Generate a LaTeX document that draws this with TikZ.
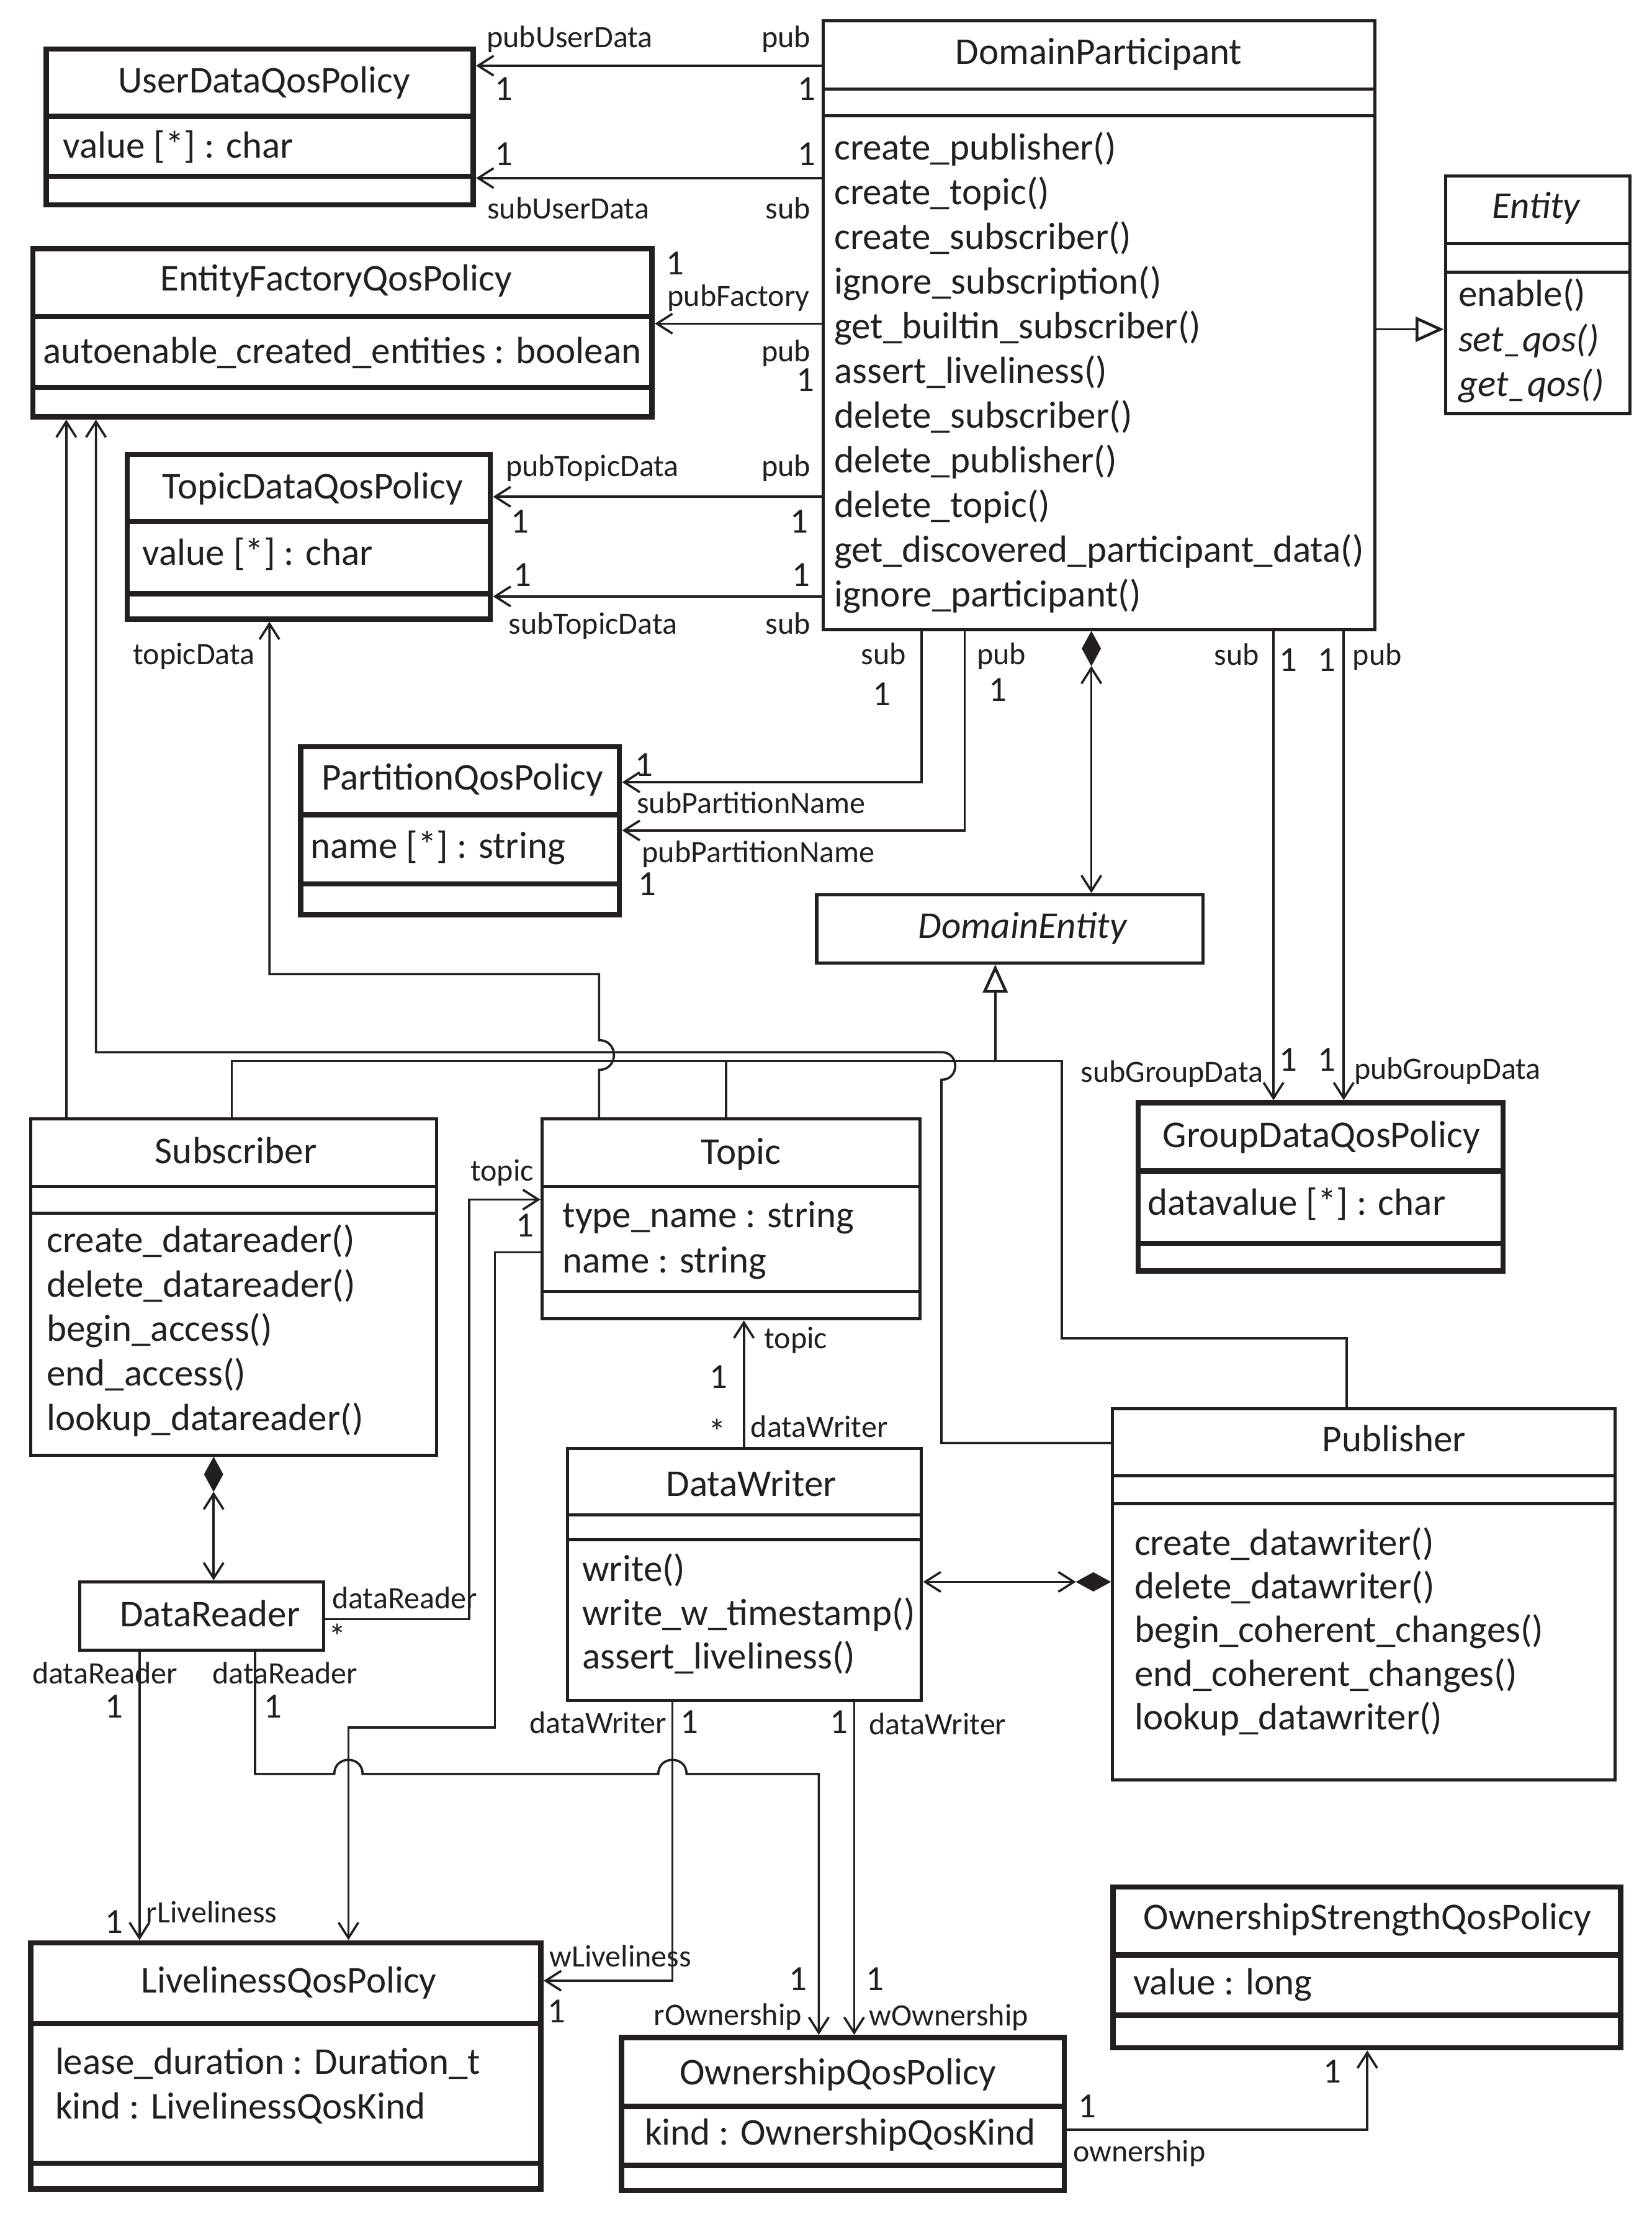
\documentclass[tikz,border=0pt]{standalone}
\usepackage{fontspec}
\setmainfont{Carlito}
\usepackage{tikz}
\usetikzlibrary{
  arrows.meta,
  positioning,
  shapes.geometric,
  fit,
  calc,
}
\definecolor{linecol}{RGB}{35,31,32}
\newcommand{\namefont}{\fontsize{13.4}{16}\selectfont}
\newcommand{\rolefont}{\fontsize{11}{13}\selectfont}
\newcommand{\multfont}{\fontsize{12.5}{14}\selectfont}
\newcommand{\classrule}[3][thinrule]{\draw[#1] (#2.west |- 0,#3) -- (#2.east |- 0,#3);}
\tikzset{
  thinclass/.style={draw=linecol, line width=1.1pt, inner sep=0pt},
  thickclass/.style={draw=linecol, line width=1.9pt, inner sep=0pt},
  thinrule/.style={draw=linecol, line width=1.1pt},
  thickrule/.style={draw=linecol, line width=1.9pt},
  clsname/.style={font=\namefont, anchor=mid, inner sep=0pt, yshift=-2pt},
  member/.style={font=\namefont, anchor=mid west, inner sep=0pt, yshift=-2pt},
  rolelbl/.style={font=\rolefont, inner sep=0pt, yshift=-2pt},
  mult/.style={font=\multfont, anchor=mid, inner sep=0pt, yshift=-1.6pt},
  conn/.style={line width=0.8pt},
  assoc/.style={conn, -{Straight Barb[length=5.5pt, width=7pt]}},
  assoctwo/.style={conn, {Straight Barb[length=5.5pt, width=7pt]}-{Straight Barb[length=5.5pt, width=7pt]}},
  gener/.style={conn, -{Triangle[open, length=10pt, width=8.8pt, line width=1pt]}},
  compdiam/.style={diamond, fill=linecol, draw=linecol, line width=0.3pt,
    inner sep=0pt, minimum width=6.6pt, minimum height=12pt},
  compdiamh/.style={diamond, fill=linecol, draw=linecol, line width=0.3pt,
    inner sep=0pt, minimum width=12pt, minimum height=6.6pt},
}

\begin{document}
\begin{tikzpicture}[x=0.5pt, y=-0.5pt, color=linecol]
  \useasboundingbox (0,0) rectangle (1169,1568);

  % ── DomainParticipant ──
  \node[thinclass, fit={(582.5,14.7) (973,445.5)}] (DP) {};
  \classrule{DP}{63.2}
  \classrule{DP}{81.7}
  \node[clsname] (DPn) at (777.7,36.8) {DomainParticipant};
  \foreach \m [count=\i] in {create\_publisher(), create\_topic(), create\_subscriber(),
      ignore\_subscription(), get\_builtin\_subscriber(), assert\_liveliness(),
      delete\_subscriber(), delete\_publisher(), delete\_topic(),
      get\_discovered\_participant\_data(), ignore\_participant()} {
    \node[member] (DPm\i) at (590,72.8+31.6*\i) {\m};
  }

  % ── Entity ──
  \node[thinclass, fit={(1023,124.4) (1153.6,292.6)}] (Ent) {};
  \classrule{Ent}{172.6}
  \classrule{Ent}{192.6}
  \node[clsname] (Entn) at (1087.5,145.5) {\textit{Entity}};
  \node[member] (Entm1) at (1031.8,208) {enable()};
  \node[member] (Entm2) at (1031.8,240) {\textit{set\_qos()}};
  \node[member] (Entm3) at (1031.8,271.5) {\textit{get\_qos()}};

  % ── UserDataQosPolicy ──
  \node[thickclass, fit={(32.6,34.7) (335,145)}] (UD) {};
  \classrule[thickrule]{UD}{82.3}
  \classrule[thickrule]{UD}{124.7}
  \node[clsname] (UDn) at (187,57) {UserDataQosPolicy};
  \node[member] (UDa) at (44.3,103) {value [*] : char};

  % ── EntityFactoryQosPolicy ──
  \node[thickclass, fit={(23.3,176) (461.5,295)}] (EF) {};
  \classrule[thickrule]{EF}{224}
  \classrule[thickrule]{EF}{274}
  \node[clsname] (EFn) at (238,197) {EntityFactoryQosPolicy};
  \node[member] (EFa) at (30,248.5) {autoenable\_created\_entities : boolean};

  % ── TopicDataQosPolicy ──
  \node[thickclass, fit={(90,321.5) (347,438)}] (TD) {};
  \classrule[thickrule]{TD}{369}
  \classrule[thickrule]{TD}{420}
  \node[clsname] (TDn) at (221.4,344) {TopicDataQosPolicy};
  \node[member] (TDa) at (100.6,391) {value [*] : char};

  % ── PartitionQosPolicy ──
  \node[thickclass, fit={(212.8,528.3) (438.4,647.3)}] (PQ) {};
  \classrule[thickrule]{PQ}{576.5}
  \classrule[thickrule]{PQ}{625.5}
  \node[clsname] (PQn) at (327.4,550) {PartitionQosPolicy};
  \node[member] (PQa) at (219.5,598.3) {name [*] : string};

  % ── DomainEntity ──
  \node[thinclass, fit={(578,633) (851.4,681.4)}] (DE) {};
  \node[clsname] (DEn) at (724,655) {\textit{DomainEntity}};

  % ── GroupDataQosPolicy ──
  \node[thickclass, fit={(805.5,780.4) (1063.8,899.4)}] (GD) {};
  \classrule[thickrule]{GD}{828.5}
  \classrule[thickrule]{GD}{879.8}
  \node[clsname] (GDn) at (935.2,803.3) {GroupDataQosPolicy};
  \node[member] (GDa) at (812.1,851) {datavalue [*] : char};

  % ── Subscriber ──
  \node[thinclass, fit={(21.8,791.6) (308.9,1029.8)}] (Sub) {};
  \classrule{Sub}{839.7}
  \classrule{Sub}{858.5}
  \node[clsname] (Subn) at (167,814.5) {Subscriber};
  \foreach \m [count=\i] in {create\_datareader(), delete\_datareader(), begin\_access(),
      end\_access(), lookup\_datareader()} {
    \node[member] (Subm\i) at (32.7,845.8+31.5*\i) {\m};
  }

  % ── Topic ──
  \node[thinclass, fit={(383.6,791.6) (651,933.2)}] (Top) {};
  \classrule{Top}{839.7}
  \classrule{Top}{913.8}
  \node[clsname] (Topn) at (524.4,815) {Topic};
  \node[member] (Topa1) at (397.8,859.6) {type\_name : string};
  \node[member] (Topa2) at (397.8,891.9) {name : string};

  % ── DataReader ──
  \node[thinclass, fit={(56.3,1119.3) (228.9,1167.7)}] (DR) {};
  \node[clsname] (DRn) at (148.6,1142) {DataReader};

  % ── DataWriter ──
  \node[thinclass, fit={(401.6,1024.7) (652.2,1203)}] (DW) {};
  \classrule{DW}{1072.1}
  \classrule{DW}{1089.5}
  \node[clsname] (DWn) at (531.8,1050) {DataWriter};
  \foreach \m [count=\i] in {write(), write\_w\_timestamp(), assert\_liveliness()} {
    \node[member] (DWm\i) at (411.7,1079.4+30.9*\i) {\m};
  }

  % ── Publisher ──
  \node[thinclass, fit={(787.2,997) (1143.2,1259.4)}] (Pub) {};
  \classrule{Pub}{1044.4}
  \classrule{Pub}{1063.8}
  \node[clsname] (Pubn) at (986.7,1018.4) {Publisher};
  \foreach \m [count=\i] in {create\_datawriter(), delete\_datawriter(),
      begin\_coherent\_changes(), end\_coherent\_changes(), lookup\_datawriter()} {
    \node[member] (Pubm\i) at (802.5,1060.6+30.9*\i) {\m};
  }

  % ── LivelinessQosPolicy ──
  \node[thickclass, fit={(21.8,1374.7) (382.8,1548.9)}] (LQ) {};
  \classrule[thickrule]{LQ}{1431.9}
  \classrule[thickrule]{LQ}{1530.6}
  \node[clsname] (LQn) at (204.5,1401.5) {LivelinessQosPolicy};
  \node[member] (LQa1) at (38.7,1458.7) {lease\_duration : Duration\_t};
  \node[member] (LQa2) at (38.7,1490.4) {kind : LivelinessQosKind};

  % ── OwnershipQosPolicy ──
  \node[thickclass, fit={(439.9,1441.7) (753.3,1550)}] (OQ) {};
  \classrule[thickrule]{OQ}{1490.4}
  \classrule[thickrule]{OQ}{1532.3}
  \node[clsname] (OQn) at (593,1466.5) {OwnershipQosPolicy};
  \node[member] (OQa) at (456,1508.7) {kind : OwnershipQosKind};

  % ── OwnershipStrengthQosPolicy ──
  \node[thickclass, fit={(787.6,1335.2) (1147,1449)}] (OS) {};
  \classrule[thickrule]{OS}{1383.2}
  \classrule[thickrule]{OS}{1425.8}
  \node[clsname] (OSn) at (967.7,1356.4) {OwnershipStrengthQosPolicy};
  \node[member] (OSa) at (801.7,1402.7) {value : long};

  % ── DomainParticipant associations ──
  \draw[assoc] (DP.west |- 0,46.5) -- (UD.east |- 0,46.5);
  \draw[assoc] (DP.west |- 0,126) -- (UD.east |- 0,126);
  \draw[assoc] (DP.west |- 0,229) -- (EF.east |- 0,229);
  \draw[assoc] (DP.west |- 0,351.5) -- (TD.east |- 0,351.5);
  \draw[assoc] (DP.west |- 0,422) -- (TD.east |- 0,422);
  \draw[assoc] (652.2,0 |- DP.south) |- (PQ.east |- 0,553.5);
  \draw[assoc] (682.7,0 |- DP.south) |- (PQ.east |- 0,587.6);
  \draw[assoc] (901.3,0 |- DP.south) -- (901.3,0 |- GD.north);
  \draw[assoc] (951,0 |- DP.south) -- (951,0 |- GD.north);
  \draw[gener] (DP.east |- 0,233) -- (Ent.west |- 0,233);
  \node[compdiam, anchor=north] (DPd) at (772.4,0 |- DP.south) {};
  \draw[assoctwo] (DPd.south) -- (772.4,0 |- DE.north);

  % ── DomainEntity generalization ──
  \coordinate (busJ) at (704.4,750.9);
  \draw[gener] (busJ) -- (704.4,0 |- DE.south);
  \draw[conn] (164,0 |- Sub.north) |- (751.4,750.9) |- (953.2,947) -- (953.2,0 |- Pub.north);
  \draw[conn] (514,0 |- Top.north) -- (514,750.9);

  % ── EntityFactory links ──
  \draw[assoc] (46.9,0 |- Sub.north) -- (46.9,0 |- EF.south);
  \draw[assoc] (Pub.west |- 0,1021) -| (666.3,764)
    .. controls (679.3,764) and (679.3,744.5) .. (666.3,744.5) -| (67.9,0 |- EF.south);

  % ── TopicData link ──
  \draw[assoc] (424,0 |- Top.north) -- (424,757)
    .. controls (438,757) and (438,736) .. (424,736) |- (190.7,689.3) -- (190.7,0 |- TD.south);

  % ── Topic links ──
  \draw[assoc] (DR.east |- 0,1145.7) -| (332.1,848.8) -- (Top.west |- 0,848.8);
  \draw[assoc] (Top.west |- 0,886.1) -| (350.2,1222.4) -| (246.6,0 |- LQ.north);
  \draw[assoc] (526.5,0 |- DW.north) -- (526.5,0 |- Top.south);

  % ── Compositions ──
  \node[compdiamh, anchor=east] (Pubd) at (Pub.west |- 0,1119.3) {};
  \draw[assoctwo] (Pubd.west) -- (DW.east |- 0,1119.3);
  \node[compdiam, anchor=north] (Subd) at (151.2,0 |- Sub.south) {};
  \draw[assoctwo] (Subd.south) -- (151.2,0 |- DR.north);

  % ── Liveliness / Ownership links ──
  \draw[assoc] (98.7,0 |- DR.south) -- (98.7,0 |- LQ.north);
  \draw[assoc] (180.5,0 |- DR.south) |- (236.6,1255.2)
    .. controls (236.6,1241.9) and (256.6,1241.9) .. (256.6,1255.2) -- (465.9,1255.2)
    .. controls (465.9,1241.9) and (485.9,1241.9) .. (485.9,1255.2) -| (579.5,0 |- OQ.north);
  \draw[assoc] (475.9,0 |- DW.south) |- (LQ.east |- 0,1401.5);
  \draw[assoc] (604.5,0 |- DW.south) -- (604.5,0 |- OQ.north);
  \draw[assoc] (OQ.east |- 0,1507) -| (967.7,0 |- OS.south);

  % ── Role names and multiplicities (top) ──
  \node[rolelbl, anchor=mid west] (rPubUD) at (344,25) {pubUserData};
  \node[rolelbl, anchor=mid east] (rPubA) at (574,25) {pub};
  \node[mult] (mUD1) at (356.5,63) {1};
  \node[mult] (mUD2) at (571,63) {1};
  \node[mult] (mUD3) at (356.5,109) {1};
  \node[mult] (mUD4) at (571,109) {1};
  \node[rolelbl, anchor=mid west] (rSubUD) at (344.5,146) {subUserData};
  \node[rolelbl, anchor=mid east] (rSubA) at (574,146) {sub};
  \node[mult] (mEF1) at (478,186.5) {1};
  \node[rolelbl, anchor=mid west] (rPubEF) at (472,208) {pubFactory};
  \node[rolelbl, anchor=mid east] (rPubB) at (574,247) {pub};
  \node[mult] (mEF2) at (570,269) {1};
  \node[rolelbl, anchor=mid west] (rPubTD) at (357.6,328.5) {pubTopicData};
  \node[rolelbl, anchor=mid east] (rPubC) at (574,328.5) {pub};
  \node[mult] (mTD1) at (368,369) {1};
  \node[mult] (mTD2) at (565.5,369) {1};
  \node[mult] (mTD3) at (370,407) {1};
  \node[mult] (mTD4) at (567,407) {1};
  \node[rolelbl, anchor=mid west] (rSubTD) at (359.5,440) {subTopicData};
  \node[rolelbl, anchor=mid east] (rSubC) at (574,440) {sub};
  \node[rolelbl, anchor=mid west] (rTopicData) at (93.8,461.6) {topicData};

  % ── Role names and multiplicities (below DomainParticipant) ──
  \node[rolelbl, anchor=mid east] (rSubD) at (641.5,461.6) {sub};
  \node[mult] (mPQ1) at (624.3,491) {1};
  \node[rolelbl, anchor=mid west] (rPubD) at (691,461.6) {pub};
  \node[mult] (mPQ2) at (706.3,488) {1};
  \node[mult] (mPQ3) at (456,541.4) {1};
  \node[rolelbl, anchor=mid west] (rSubPQ) at (450.4,566.7) {subPartitionName};
  \node[rolelbl, anchor=mid west] (rPubPQ) at (454,601.7) {pubPartitionName};
  \node[mult] (mPQ4) at (458,625.5) {1};
  \node[rolelbl, anchor=mid east] (rSubE) at (891.4,462) {sub};
  \node[mult] (mGD1) at (911.6,467) {1};
  \node[mult] (mGD2) at (939,467) {1};
  \node[rolelbl, anchor=mid west] (rPubE) at (957,462) {pub};
  \node[rolelbl, anchor=mid east] (rSubGD) at (894.4,757) {subGroupData};
  \node[mult] (mGD3) at (911.6,750) {1};
  \node[mult] (mGD4) at (939,750) {1};
  \node[rolelbl, anchor=mid west] (rPubGD) at (958,755) {pubGroupData};

  % ── Role names and multiplicities (lower part) ──
  \node[rolelbl, anchor=mid east] (rTopicA) at (378,827) {topic};
  \node[mult] (mTop1) at (371.5,867) {1};
  \node[rolelbl, anchor=mid west] (rDRA) at (234.6,1129.4) {dataReader};
  \node[mult] (mTop2) at (239,1159) {*};
  \node[rolelbl, anchor=mid west] (rTopicB) at (540.4,945.3) {topic};
  \node[mult] (mTop3) at (508.5,974.3) {1};
  \node[mult] (mTop4) at (507.4,1014) {*};
  \node[rolelbl, anchor=mid west] (rDWA) at (531,1008.4) {dataWriter};
  \node[rolelbl, anchor=mid west] (rDRB) at (22.5,1182.6) {dataReader};
  \node[mult] (mLQ1) at (80.7,1207.5) {1};
  \node[rolelbl, anchor=mid west] (rDRC) at (150,1182.6) {dataReader};
  \node[mult] (mOQ1) at (193.3,1207.5) {1};
  \node[mult] (mLQ2) at (80.7,1360) {1};
  \node[rolelbl, anchor=mid west] (rRLive) at (103.2,1351.5) {rLiveliness};
  \node[rolelbl, anchor=mid east] (rDWB) at (472.1,1217.5) {dataWriter};
  \node[mult] (mLQ3) at (487.9,1218.7) {1};
  \node[rolelbl, anchor=mid west] (rWLive) at (388.4,1382.7) {wLiveliness};
  \node[mult] (mLQ4) at (394,1423.4) {1};
  \node[mult] (mOQ2) at (593.8,1218.7) {1};
  \node[rolelbl, anchor=mid west] (rDWC) at (614.8,1218.7) {dataWriter};
  \node[mult] (mOQ3) at (564.8,1400.3) {1};
  \node[rolelbl, anchor=mid east] (rROwn) at (567.8,1424) {rOwnership};
  \node[mult] (mOQ4) at (619.4,1400.3) {1};
  \node[rolelbl, anchor=mid west] (rWOwn) at (614.8,1424.6) {wOwnership};
  \node[mult] (mOS1) at (769.3,1490.4) {1};
  \node[rolelbl, anchor=mid west] (rOwn) at (759,1520.9) {ownership};
  \node[mult] (mOS2) at (943,1466) {1};

\end{tikzpicture}
\end{document}
